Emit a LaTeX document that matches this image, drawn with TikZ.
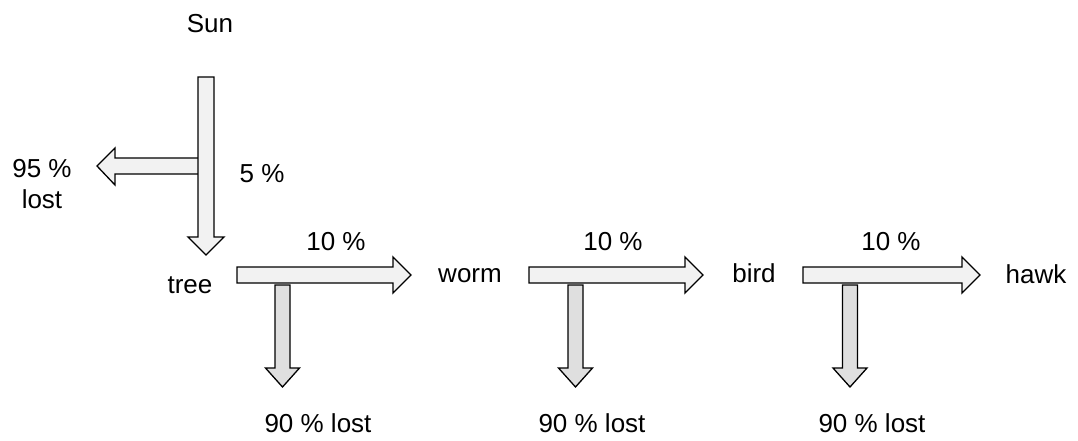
\documentclass[tikz,border=0pt]{standalone}
\usepackage{fontspec}
\setmainfont{Liberation Sans}
\begin{document}
\begin{tikzpicture}[x=1pt,y=-1pt,
  flow/.style={draw=black,line width=1.3pt,fill=gray!10,line join=miter},
  loss/.style={draw=black,line width=1.3pt,fill=gray!25,line join=miter},
  lbl/.style={font=\fontsize{26}{31}\selectfont,inner sep=0pt,anchor=base}]
\useasboundingbox (0,0) rectangle (1078,441);

% labels (placed by baseline)
\node[lbl] (sun) at (210,33) {Sun};
\node[lbl] (five) at (262,182) {5 \%};
\node[lbl] (lost0a) at (42,177) {95 \%};
\node[lbl] (lost0b) at (42,208) {lost};
\node[lbl] (tree) at (190,293) {tree};
\node[lbl] (worm) at (470,282) {worm};
\node[lbl] (bird) at (754,282) {bird};
\node[lbl] (hawk) at (1036,283) {hawk};
\node[lbl] (t1) at (336,250) {10 \%};
\node[lbl] (t2) at (613,250) {10 \%};
\node[lbl] (t3) at (891,250) {10 \%};
\node[lbl] (l1) at (318,432) {90 \% lost};
\node[lbl] (l2) at (592,432) {90 \% lost};
\node[lbl] (l3) at (872,432) {90 \% lost};

% loss from the sunlight, pointing left
\draw[flow] (199,158) -- (115,158) -- (115,148) -- (97,166) -- (115,185) -- (115,174) -- (199,174) -- cycle;
% sunlight down to the tree
\draw[flow] (198,77) -- (214,77) -- (214,237) -- (224,237) -- (206,255) -- (188,237) -- (198,237) -- cycle;

% transfers along the chain
\foreach \a/\b in {237/393, 529/685, 803/962}{
  \draw[flow] (\a,267) -- (\b,267) -- (\b,257) -- (\b+18,275) -- (\b,293) -- (\b,283) -- (\a,283) -- cycle;
}
% losses at each step
\foreach \c in {282.5, 575.5, 850}{
  \draw[loss] (\c-7.5,285) -- (\c+7.5,285) -- (\c+7.5,368) -- (\c+17,368) -- (\c,387) -- (\c-17,368) -- (\c-7.5,368) -- cycle;
}
\end{tikzpicture}
\end{document}
